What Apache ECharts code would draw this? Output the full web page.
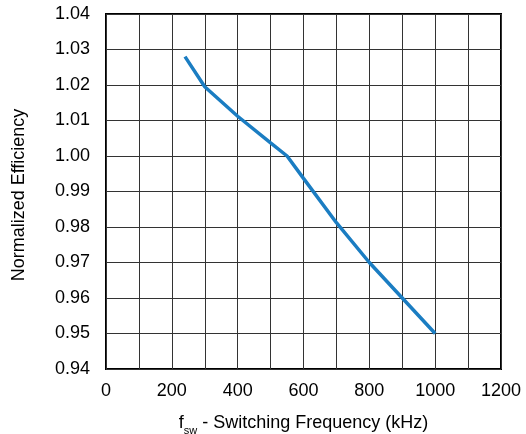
<!DOCTYPE html>
<html>
<head>
<meta charset="utf-8">
<script src="https://cdn.jsdelivr.net/npm/echarts@6/dist/echarts.min.js"></script>
<style>
  html, body { margin: 0; padding: 0; background: #fff; }
  #chart { width: 526px; height: 434px; }
</style>
</head>
<body>
<div id="chart"></div>
<script>
// frequency in kHz, efficiency normalized to 1.00 at ~550 kHz
const freqKHz = [240, 300, 400, 500, 550, 600, 700, 800, 900, 1000]
const efficiency = [1.028, 1.0195, 1.0112, 1.0037, 1.000, 0.9937, 0.9812, 0.970, 0.960, 0.950]
const xTicks = [0, 200, 400, 600, 800, 1000, 1200]

const font = 'Liberation Sans, Arial, sans-serif'
const gridColor = '#333'

const myChart = echarts.init(document.getElementById('chart'), null, { renderer: 'canvas' })

myChart.setOption({
  animation: false,
  grid: {
    left: 106, right: 25, top: 14, bottom: 65,
    show: true, borderColor: '#000', borderWidth: 2,
    containLabel: false,
    outerBoundsMode: 'none'
  },
  xAxis: {
    type: 'value',
    min: 0, max: 1200, interval: 100,
    axisLine: { show: false },
    axisTick: { show: false },
    splitLine: { show: true, lineStyle: { color: gridColor, width: 1 } },
    axisLabel: {
      margin: 13,
      fontFamily: font, fontSize: 18, color: '#000',
      formatter: v => xTicks.includes(v) ? String(v) : ''
    },
    name: '{a|f}{sub|sw}{a| - Switching Frequency (kHz)}',
    nameLocation: 'middle',
    nameGap: 41,
    nameTextStyle: {
      fontFamily: font, color: '#000',
      rich: {
        a: { fontFamily: font, fontSize: 18, color: '#000', lineHeight: 22, verticalAlign: 'bottom' },
        sub: { fontFamily: font, fontSize: 11, color: '#000', lineHeight: 22, verticalAlign: 'bottom', padding: [0, 0, -4, 0] }
      }
    }
  },
  yAxis: {
    type: 'value',
    min: 0.94, max: 1.04, interval: 0.01,
    axisLine: { show: false },
    axisTick: { show: false },
    splitLine: { show: true, lineStyle: { color: gridColor, width: 1 } },
    axisLabel: {
      margin: 16,
      fontFamily: font, fontSize: 18, color: '#000',
      formatter: v => v.toFixed(2)
    },
    name: 'Normalized Efficiency',
    nameLocation: 'middle',
    nameGap: 78,
    nameTextStyle: { fontFamily: font, fontSize: 18, color: '#000', padding: [0, 7, 0, 0] }
  },
  series: [{
    type: 'line',
    data: freqKHz.map((f, i) => [f, efficiency[i]]),
    showSymbol: false,
    lineStyle: { color: '#1b7dc2', width: 3.5 },
    z: 5
  }]
})
</script>
</body>
</html>
